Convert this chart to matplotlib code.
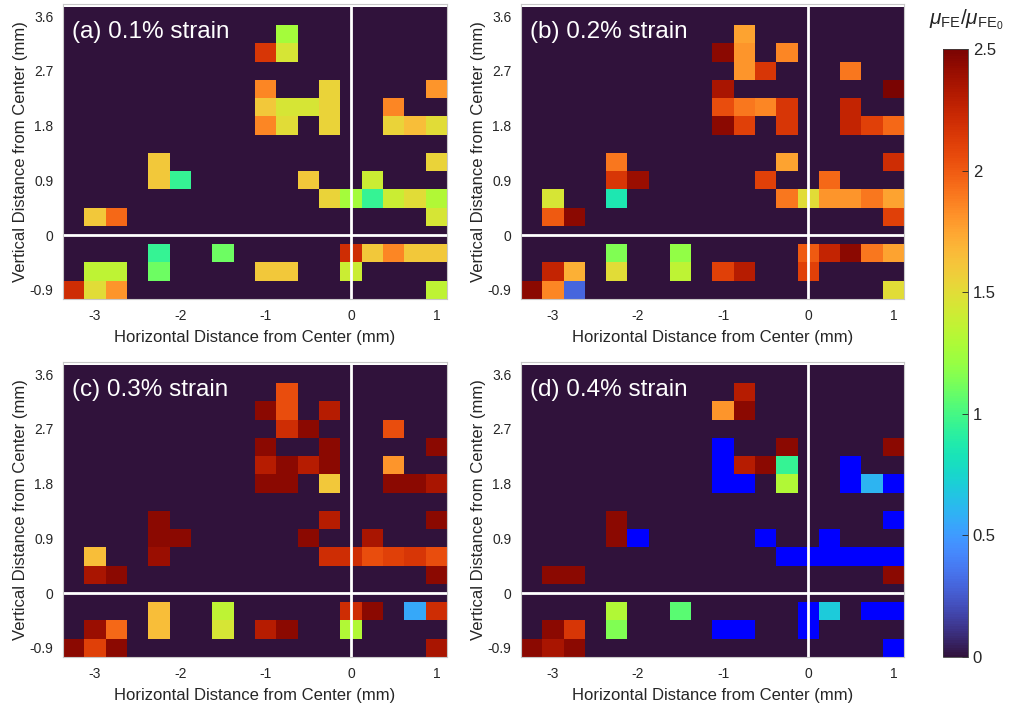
import numpy as np
import matplotlib.pyplot as plt
from matplotlib import colormaps

plt.rcParams['font.family'] = ['Liberation Sans', 'DejaVu Sans']
plt.rcParams['mathtext.fontset'] = 'custom'
plt.rcParams['mathtext.rm'] = 'Liberation Sans'
plt.rcParams['mathtext.it'] = 'Liberation Sans:italic'

# grid cell centres (mm)
x_centers = [-3.25, -3.0, -2.75, -2.5, -2.25, -2.0, -1.75, -1.5, -1.25,
             -1.0, -0.75, -0.5, -0.25, 0.0, 0.25, 0.5, 0.75, 1.0]
y_centers = [-0.9, -0.6, -0.3, 0.0, 0.3, 0.6, 0.9, 1.2, 1.5, 1.8,
             2.1, 2.4, 2.7, 3.0, 3.3, 3.6]

x_ticks = [-3, -2, -1, 0, 1]
y_ticks = [-0.9, 0, 0.9, 1.8, 2.7, 3.6]
y_tick_labels = ['-0.9', '0', '0.9', '1.8', '2.7', '3.6']
cbar_ticks = [0, 0.5, 1, 1.5, 2, 2.5]
cbar_tick_labels = ['0', '0.5', '1', '1.5', '2', '2.5']

titles = ['(a) 0.1% strain', '(b) 0.2% strain', '(c) 0.3% strain', '(d) 0.4% strain']

B = -1  # below colour range (drawn pure blue)
Z = [0] * 18

# rows listed top (y=3.6) to bottom (y=-0.9)
strain_01 = [
    Z,
    [0, 0, 0, 0, 0, 0, 0, 0, 0, 0, 1.25, 0, 0, 0, 0, 0, 0, 0],
    [0, 0, 0, 0, 0, 0, 0, 0, 0, 2.15, 1.45, 0, 0, 0, 0, 0, 0, 0],
    Z,
    [0, 0, 0, 0, 0, 0, 0, 0, 0, 1.85, 0, 0, 1.55, 0, 0, 0, 0, 1.8],
    [0, 0, 0, 0, 0, 0, 0, 0, 0, 1.6, 1.45, 1.45, 1.55, 0, 0, 1.85, 0, 0],
    [0, 0, 0, 0, 0, 0, 0, 0, 0, 1.85, 1.5, 0, 1.55, 0, 0, 1.55, 1.65, 1.5],
    Z,
    [0, 0, 0, 0, 1.6, 0, 0, 0, 0, 0, 0, 0, 0, 0, 0, 0, 0, 1.55],
    [0, 0, 0, 0, 1.6, 0.95, 0, 0, 0, 0, 0, 1.6, 0, 0, 1.4, 0, 0, 0],
    [0, 0, 0, 0, 0, 0, 0, 0, 0, 0, 0, 0, 1.55, 1.25, 0.95, 1.4, 1.5, 1.3],
    [0, 1.6, 1.95, 0, 0, 0, 0, 0, 0, 0, 0, 0, 0, 0, 0, 0, 0, 1.45],
    Z,
    [0, 0, 0, 0, 0.95, 0, 0, 1.1, 0, 0, 0, 0, 0, 2.2, 1.6, 1.85, 1.6, 1.6],
    [0, 1.35, 1.35, 0, 1.1, 0, 0, 0, 0, 1.6, 1.6, 0, 0, 1.4, 0, 0, 0, 0],
    [2.2, 1.5, 1.8, 0, 0, 0, 0, 0, 0, 0, 0, 0, 0, 0, 0, 0, 0, 1.35],
]

strain_02 = [
    Z,
    [0, 0, 0, 0, 0, 0, 0, 0, 0, 0, 1.75, 0, 0, 0, 0, 0, 0, 0],
    [0, 0, 0, 0, 0, 0, 0, 0, 0, 2.45, 1.8, 0, 1.85, 0, 0, 0, 0, 0],
    [0, 0, 0, 0, 0, 0, 0, 0, 0, 0, 1.8, 2.15, 0, 0, 0, 1.9, 0, 0],
    [0, 0, 0, 0, 0, 0, 0, 0, 0, 2.35, 0, 0, 0, 0, 0, 0, 0, 2.5],
    [0, 0, 0, 0, 0, 0, 0, 0, 0, 2.05, 1.9, 1.85, 2.15, 0, 0, 2.25, 0, 0],
    [0, 0, 0, 0, 0, 0, 0, 0, 0, 2.45, 2.1, 0, 2.15, 0, 0, 2.25, 2.1, 1.95],
    Z,
    [0, 0, 0, 0, 1.9, 0, 0, 0, 0, 0, 0, 0, 1.75, 0, 0, 0, 0, 2.2],
    [0, 0, 0, 0, 2.15, 2.4, 0, 0, 0, 0, 0, 2.1, 0, 0, 1.95, 0, 0, 0],
    [0, 1.45, 0, 0, 0.85, 0, 0, 0, 0, 0, 0, 0, 1.9, 1.5, 1.8, 1.8, 1.9, 1.75],
    [0, 2.0, 2.45, 0, 0, 0, 0, 0, 0, 0, 0, 0, 0, 0, 0, 0, 0, 2.1],
    Z,
    [0, 0, 0, 0, 1.15, 0, 0, 1.2, 0, 0, 0, 0, 0, 2.0, 2.25, 2.45, 1.9, 1.75],
    [0, 2.25, 1.7, 0, 1.5, 0, 0, 1.35, 0, 2.1, 2.3, 0, 0, 2.1, 0, 0, 0, 0],
    [2.45, 1.85, 0.3, 0, 0, 0, 0, 0, 0, 0, 0, 0, 0, 0, 0, 0, 0, 1.5],
]

strain_03 = [
    Z,
    [0, 0, 0, 0, 0, 0, 0, 0, 0, 0, 2.05, 0, 0, 0, 0, 0, 0, 0],
    [0, 0, 0, 0, 0, 0, 0, 0, 0, 2.45, 2.05, 0, 2.3, 0, 0, 0, 0, 0],
    [0, 0, 0, 0, 0, 0, 0, 0, 0, 0, 2.2, 2.45, 0, 0, 0, 2.05, 0, 0],
    [0, 0, 0, 0, 0, 0, 0, 0, 0, 2.45, 0, 0, 2.45, 0, 0, 0, 0, 2.45],
    [0, 0, 0, 0, 0, 0, 0, 0, 0, 2.3, 2.45, 2.3, 2.45, 0, 0, 1.8, 0, 0],
    [0, 0, 0, 0, 0, 0, 0, 0, 0, 2.45, 2.45, 0, 1.6, 0, 0, 2.45, 2.45, 2.35],
    Z,
    [0, 0, 0, 0, 2.45, 0, 0, 0, 0, 0, 0, 0, 2.3, 0, 0, 0, 0, 2.45],
    [0, 0, 0, 0, 2.45, 2.45, 0, 0, 0, 0, 0, 2.45, 0, 0, 2.35, 0, 0, 0],
    [0, 1.65, 0, 0, 2.4, 0, 0, 0, 0, 0, 0, 0, 2.2, 2.2, 2.05, 2.1, 2.15, 2.05],
    [0, 2.35, 2.45, 0, 0, 0, 0, 0, 0, 0, 0, 0, 0, 0, 0, 0, 0, 2.45],
    Z,
    [0, 0, 0, 0, 1.65, 0, 0, 1.35, 0, 0, 0, 0, 0, 2.2, 2.45, 0, 0.55, 2.2],
    [0, 2.4, 1.95, 0, 1.65, 0, 0, 1.45, 0, 2.3, 2.45, 0, 0, 1.3, 0, 0, 0, 0],
    [2.45, 2.1, 2.45, 0, 0, 0, 0, 0, 0, 0, 0, 0, 0, 0, 0, 0, 0, 2.35],
]

strain_04 = [
    Z,
    [0, 0, 0, 0, 0, 0, 0, 0, 0, 0, 2.3, 0, 0, 0, 0, 0, 0, 0],
    [0, 0, 0, 0, 0, 0, 0, 0, 0, 1.8, 2.45, 0, 0, 0, 0, 0, 0, 0],
    Z,
    [0, 0, 0, 0, 0, 0, 0, 0, 0, B, 0, 0, 2.45, 0, 0, 0, 0, 2.45],
    [0, 0, 0, 0, 0, 0, 0, 0, 0, B, 2.3, 2.45, 0.95, 0, 0, B, 0, 0],
    [0, 0, 0, 0, 0, 0, 0, 0, 0, B, B, 0, 1.3, 0, 0, B, 0.6, B],
    Z,
    [0, 0, 0, 0, 2.45, 0, 0, 0, 0, 0, 0, 0, 0, 0, 0, 0, 0, B],
    [0, 0, 0, 0, 2.45, B, 0, 0, 0, 0, 0, B, 0, 0, B, 0, 0, 0],
    [0, 0, 0, 0, 0, 0, 0, 0, 0, 0, 0, 0, B, B, B, B, B, B],
    [0, 2.45, 2.45, 0, 0, 0, 0, 0, 0, 0, 0, 0, 0, 0, 0, 0, 0, 2.45],
    Z,
    [0, 0, 0, 0, 1.3, 0, 0, 1.05, 0, 0, 0, 0, 0, B, 0.7, 0, B, B],
    [0, 2.45, 2.15, 0, 1.15, 0, 0, 0, 0, B, B, 0, 0, B, 0, 0, 0, 0],
    [2.45, 2.35, 2.45, 0, 0, 0, 0, 0, 0, 0, 0, 0, 0, 0, 0, 0, 0, B],
]

panels = [strain_01, strain_02, strain_03, strain_04]

W, H = 1009, 710
fig = plt.figure(figsize=(W / 100, H / 100), dpi=100)

# axes boxes in pixels: left, top, right, bottom
boxes = [(63, 4, 447, 299), (521, 4, 904, 299),
         (63, 362, 447, 657), (521, 362, 904, 657)]

cmap = colormaps['turbo'].copy()
cmap.set_under('#0000ff')

dx = 0.125
dy = 0.15
extent = [x_centers[0] - dx, x_centers[-1] + dx, y_centers[0] - dy, y_centers[-1] + dy]
txt = '#262626'

for grid, title, (l, t, r, b) in zip(panels, titles, boxes):
    ax = fig.add_axes([l / W, 1 - b / H, (r - l) / W, (b - t) / H])
    im = ax.imshow(np.array(grid), cmap=cmap, vmin=0, vmax=2.5, extent=extent,
                   origin='upper', aspect='auto', interpolation='nearest')
    ax.axvline(0, color='white', lw=2)
    ax.axhline(0, color='white', lw=2)
    ax.set_xlim(extent[0], extent[1])
    ax.set_ylim(-1.05, 3.8)
    ax.set_xticks(x_ticks)
    ax.set_xticklabels([str(v) for v in x_ticks])
    ax.set_yticks(y_ticks)
    ax.set_yticklabels(y_tick_labels)
    ax.tick_params(length=0, labelsize=10, colors=txt, pad=7)
    ax.set_xlabel('Horizontal Distance from Center (mm)', fontsize=12, color=txt, labelpad=5)
    ax.set_ylabel('Vertical Distance from Center (mm)', fontsize=12, color=txt, labelpad=1)
    for s in ax.spines.values():
        s.set_color('#c8c8c8')
        s.set_linewidth(0.8)
    ax.text(0.023, 0.905, title, transform=ax.transAxes, color='white',
            fontsize=17.5, va='center', ha='left')

cax = fig.add_axes([943 / W, 1 - 657 / H, 25 / W, 608 / H])
cb = fig.colorbar(im, cax=cax, ticks=cbar_ticks)
cb.ax.set_yticklabels(cbar_tick_labels)
cb.ax.tick_params(direction='in', length=4, labelsize=12, colors=txt, width=0.6)
cb.outline.set_edgecolor('#404040')
cb.outline.set_linewidth(0.6)
fig.text(966 / W, 1 - 20 / H, r'$\mu_{\mathrm{FE}}/\mu_{\mathrm{FE}_0}$',
         ha='center', va='center', fontsize=15, color=txt)

fig.savefig('out.png', dpi=100)
